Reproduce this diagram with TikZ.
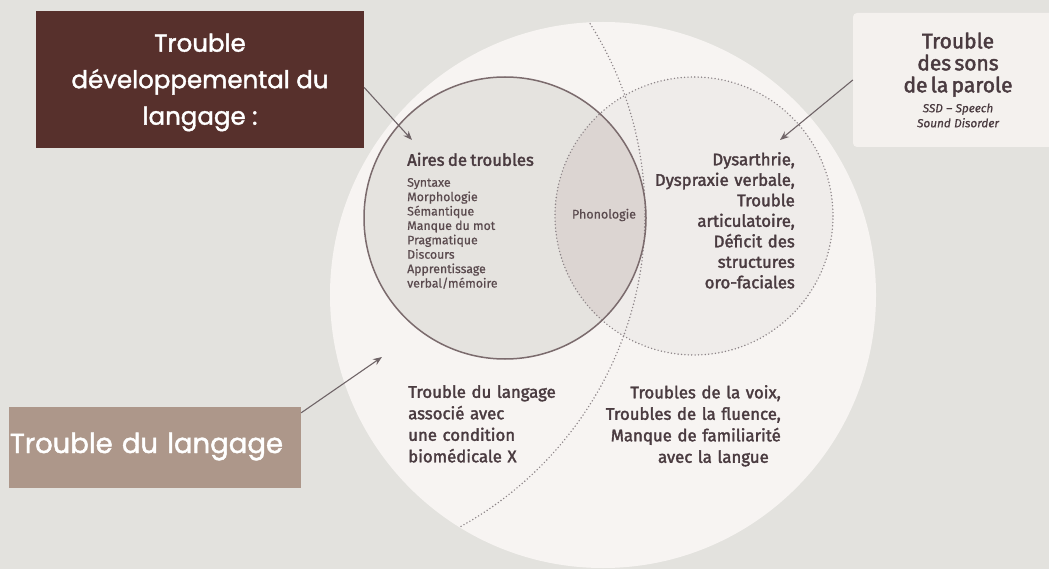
\documentclass[tikz,border=0pt]{standalone}
\usepackage{fontspec}
\usetikzlibrary{arrows.meta}
\newfontfamily\pop{Poppins}[FakeBold=1.6]
\newfontfamily\fira{Fira Sans}[FakeBold=0.6]
\newfontfamily\firamed{Fira Sans}[FakeBold=2]
\newfontfamily\firait{Fira Sans Italic}[FakeBold=0.6]
\definecolor{bgc}{HTML}{E3E2DE}
\definecolor{bigc}{HTML}{F7F4F2}
\definecolor{rightc}{HTML}{EFECEA}
\definecolor{leftc}{HTML}{E5E3DF}
\definecolor{lensc}{HTML}{DCD5D2}
\definecolor{circl}{HTML}{7B6B6D}
\definecolor{dotc}{HTML}{8C8487}
\definecolor{arrc}{HTML}{6F6467}
\definecolor{txt}{HTML}{4A3B40}
\definecolor{txtl}{HTML}{5A4A4E}
\definecolor{darkb}{HTML}{57302C}
\definecolor{lightb}{HTML}{AD978A}
\definecolor{ssdb}{HTML}{F4F1EE}
\tikzset{
  dots/.style={dotc, line width=1.6pt, line cap=round, dash pattern=on 0pt off 3.4pt},
  arr/.style={arrc, line width=1.1pt, -{Stealth[length=9pt,width=7pt]}},
  lbl/.style={inner sep=0pt, text=txt},
}
\begin{document}
\begin{tikzpicture}[x=1pt,y=-1pt]
\useasboundingbox (0,0) rectangle (1049,569);
\fill[bgc] (0,0) rectangle (1049,569);
% big circle
\fill[bigc] (603,295) circle[radius=273pt];
% right dotted circle fill
\fill[rightc] (694,216) circle[radius=139pt];
% left circle fill
\fill[leftc] (505,218) circle[radius=141pt];
% lens
\begin{scope}
  \clip (505,218) circle[radius=141pt];
  \fill[lensc] (694,216) circle[radius=139pt];
\end{scope}
% dotted lines
\draw[dots] (694,216) circle[radius=139pt];
\begin{scope}
  \clip (603,295) circle[radius=273pt];
  \draw[dots] (288,214) circle[radius=357pt];
\end{scope}
% solid circle
\draw[circl, line width=1.5pt] (505,218) circle[radius=141pt];

% boxes
\node[fill=darkb, minimum width=328pt, minimum height=137pt, inner sep=0pt,
      text=white, align=center, font=\pop\fontsize{24.5}{36.5}\selectfont]
  (tdl) at (200,79.5) {\rule{0pt}{24pt}Trouble\\développemental du\\langage :};
\node[fill=lightb, text width=290pt, align=left, inner xsep=1pt, inner ysep=0pt,
      text height=46pt, text depth=35pt, text=white,
      font=\pop\fontsize{27.5}{30}\selectfont]
  (tl) at (155,447.5) {Trouble du langage};
\node[fill=ssdb, rounded corners=4pt, minimum width=210pt, minimum height=134pt,
      text width=200pt, align=center, inner sep=0pt, text=txt]
  (ssd) at (958,80)
  {{\firamed\fontsize{21}{22}\selectfont Trouble\\des sons\\de la parole\par}
   \vspace{5pt}
   {\firait\fontsize{11.8}{15}\selectfont SSD – Speech\\Sound Disorder\par}};

% circle texts
\node[lbl, anchor=north west, text width=140pt, align=left] (aires) at (407,152.5)
  {{\firamed\fontsize{16.8}{21}\selectfont Aires de troubles\par}
   \vspace{6.5pt}
   {\fira\fontsize{12.3}{14.4}\selectfont\color{txtl} Syntaxe\\Morphologie\\Sémantique\\Manque du mot\\Pragmatique\\Discours\\Apprentissage\\verbal/mémoire\par}};
\node[lbl, text=txtl, font=\fira\fontsize{12.5}{14}\selectfont] (phon) at (604,215) {Phonologie};
\node[lbl, anchor=north east, text width=190pt, align=right,
      font=\firamed\fontsize{16.8}{20.5}\selectfont] (ssdt) at (795,152)
  {Dysarthrie,\\Dyspraxie verbale,\\Trouble\\articulatoire,\\Déficit des\\structures\\oro-faciales};
\node[lbl, anchor=north west, text width=190pt, align=left,
      font=\firamed\fontsize{16.8}{21.5}\selectfont] (biomed) at (408,385)
  {Trouble du langage\\associé avec\\une condition\\biomédicale X};
\node[lbl, anchor=north east, text width=220pt, align=right,
      font=\firamed\fontsize{16.8}{21.5}\selectfont] (voix) at (781,385)
  {Troubles de la voix,\\Troubles de la fluence,\\Manque de familiarité\\avec la langue\hspace*{12pt}};

% arrows
\coordinate (a1) at (412,140);
\coordinate (a2) at (780,140);
\coordinate (a3) at (382,357);
\draw[arr] ([yshift=-8pt]tdl.east) -- (a1);
\draw[arr] (ssd.west) -- (a2);
\draw[arr] ([yshift=-6pt]tl.north east) -- (a3);
\end{tikzpicture}
\end{document}
